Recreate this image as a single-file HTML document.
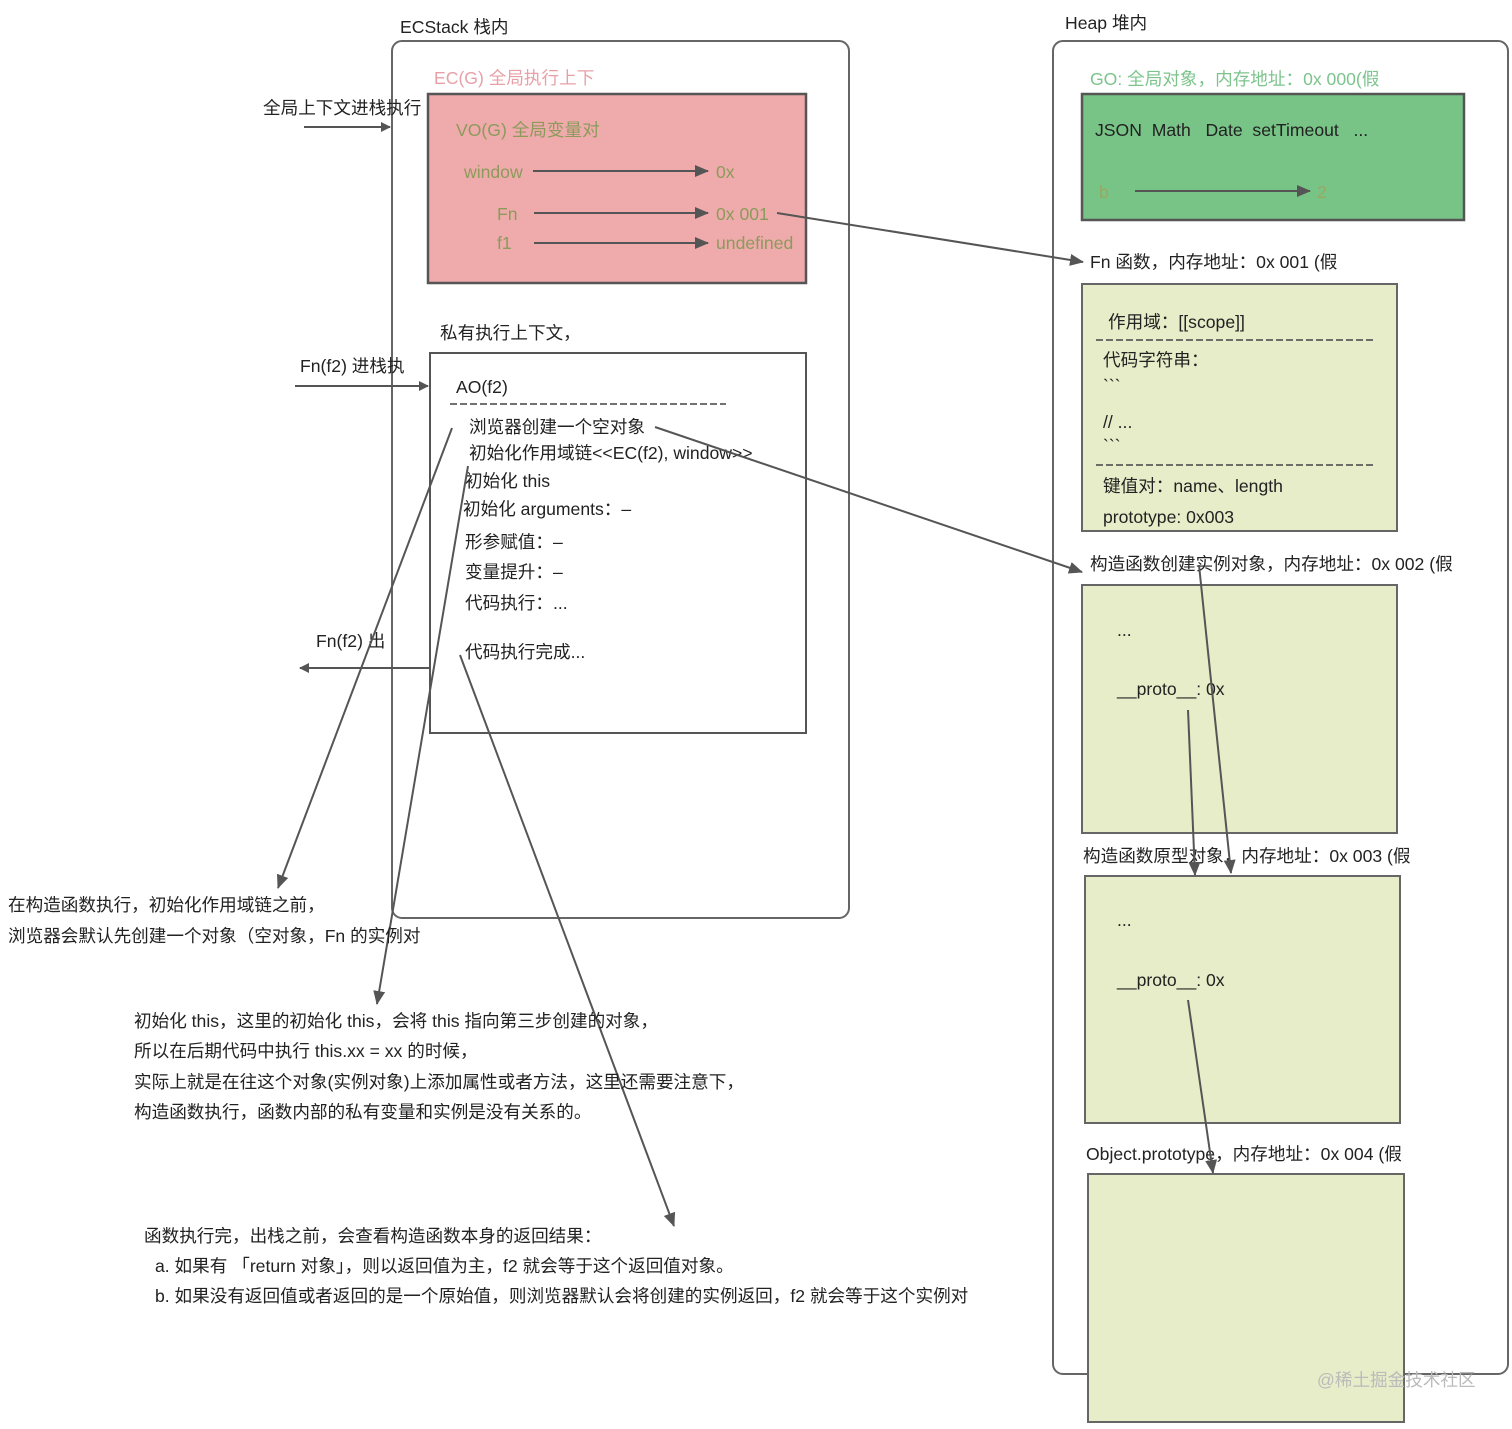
<!DOCTYPE html>
<html><head><meta charset="utf-8"><style>
html,body{margin:0;padding:0;background:#fff;}
svg text{font-family:"Liberation Sans","Noto Sans CJK SC",sans-serif;font-size:17.6px;fill:#222;}
.o{fill:#8c9a5c}
</style></head><body>
<svg width="1512" height="1424" viewBox="0 0 1512 1424" xmlns="http://www.w3.org/2000/svg">
<defs><marker id="a" markerWidth="10" markerHeight="10" refX="9" refY="5" orient="auto" markerUnits="userSpaceOnUse" viewBox="0 0 10 10"><path d="M0,0 L10,5 L0,10 z" fill="#555"/></marker>
<marker id="b" markerWidth="14" markerHeight="12" refX="13" refY="6" orient="auto" markerUnits="userSpaceOnUse" viewBox="0 0 14 12"><path d="M0,0 L14,6 L0,12 z" fill="#555"/></marker></defs>

<rect x="392" y="41" width="457" height="877" rx="10" fill="none" stroke="#666" stroke-width="2"/>
<rect x="1053" y="41" width="455" height="1333" rx="10" fill="none" stroke="#666" stroke-width="2"/>
<text x="400" y="33">ECStack 栈内</text>
<text x="1065" y="29">Heap 堆内</text>

<text x="434" y="84" style="fill:#e8a0a8">EC(G) 全局执行上下</text>
<rect x="428" y="94" width="378" height="189" fill="#efabab" stroke="#555" stroke-width="2.5"/>
<text x="456" y="136" class="o">VO(G) 全局变量对</text>
<text x="464" y="178" class="o">window</text>
<text x="497" y="220" class="o">Fn</text>
<text x="497" y="249" class="o">f1</text>
<text x="716" y="178" class="o">0x</text>
<text x="716" y="220" class="o">0x 001</text>
<text x="716" y="249" class="o">undefined</text>
<line x1="533" y1="171" x2="708" y2="171" stroke="#555" stroke-width="2" marker-end="url(#b)"/>
<line x1="534" y1="213" x2="708" y2="213" stroke="#555" stroke-width="2" marker-end="url(#b)"/>
<line x1="534" y1="243" x2="708" y2="243" stroke="#555" stroke-width="2" marker-end="url(#b)"/>

<text x="440" y="339">私有执行上下文，</text>
<rect x="430" y="353" width="376" height="380" fill="none" stroke="#555" stroke-width="2"/>
<text x="456" y="393">AO(f2)</text>
<line x1="450" y1="404" x2="726" y2="404" stroke="#444" stroke-width="1.5" stroke-dasharray="7,3"/>
<text x="469" y="433">浏览器创建一个空对象</text>
<text x="469" y="459">初始化作用域链&lt;&lt;EC(f2), window&gt;&gt;</text>
<text x="465" y="487">初始化 this</text>
<text x="463" y="515">初始化 arguments：–</text>
<text x="465" y="548">形参赋值：–</text>
<text x="465" y="578">变量提升：–</text>
<text x="465" y="609">代码执行：...</text>
<text x="465" y="658">代码执行完成...</text>

<text x="263" y="114">全局上下文进栈执行</text>
<text x="300" y="372">Fn(f2) 进栈执</text>
<text x="316" y="647">Fn(f2) 出</text>
<line x1="304" y1="127" x2="390" y2="127" stroke="#555" stroke-width="2" marker-end="url(#a)"/>
<line x1="295" y1="386" x2="428" y2="386" stroke="#555" stroke-width="2" marker-end="url(#a)"/>
<line x1="430" y1="668" x2="300" y2="668" stroke="#555" stroke-width="2" marker-end="url(#a)"/>

<text x="1090" y="85" style="fill:#7cc48c">GO: 全局对象，内存地址：0x 000(假</text>
<rect x="1082" y="94" width="382" height="126" fill="#78c386" stroke="#555" stroke-width="2.5"/>
<text x="1095" y="136">JSON &#160;Math &#160; Date &#160;setTimeout &#160; ...</text>
<text x="1099" y="198" style="fill:#9aa860">b</text>
<text x="1317" y="198" style="fill:#9aa860">2</text>
<line x1="1135" y1="191" x2="1310" y2="191" stroke="#555" stroke-width="2" marker-end="url(#b)"/>

<text x="1090" y="268">Fn 函数，内存地址：0x 001 (假</text>
<rect x="1082" y="284" width="315" height="247" fill="#e6edc8" stroke="#666" stroke-width="2"/>
<text x="1108" y="328">作用域：[[scope]]</text>
<line x1="1096" y1="340" x2="1373" y2="340" stroke="#444" stroke-width="1.5" stroke-dasharray="7,3"/>
<text x="1103" y="366">代码字符串：</text>
<text x="1103" y="392">&#96;&#96;&#96;</text>
<text x="1103" y="428">// ...</text>
<text x="1103" y="452">&#96;&#96;&#96;</text>
<line x1="1096" y1="465" x2="1373" y2="465" stroke="#444" stroke-width="1.5" stroke-dasharray="7,3"/>
<text x="1103" y="492">键值对：name、length</text>
<text x="1103" y="523">prototype: 0x003</text>

<text x="1090" y="570">构造函数创建实例对象，内存地址：0x 002 (假</text>
<rect x="1082" y="585" width="315" height="248" fill="#e6edc8" stroke="#666" stroke-width="2"/>
<text x="1117" y="636">...</text>
<text x="1117" y="695">__proto__: 0x</text>

<text x="1083" y="862">构造函数原型对象，内存地址：0x 003 (假</text>
<rect x="1085" y="876" width="315" height="247" fill="#e6edc8" stroke="#666" stroke-width="2"/>
<text x="1117" y="926">...</text>
<text x="1117" y="986">__proto__: 0x</text>

<text x="1086" y="1160">Object.prototype，内存地址：0x 004 (假</text>
<rect x="1088" y="1174" width="316" height="248" fill="#e6edc8" stroke="#666" stroke-width="2"/>

<line x1="777" y1="213" x2="1083" y2="262" stroke="#555" stroke-width="2" marker-end="url(#b)"/>
<line x1="655" y1="427" x2="1082" y2="572" stroke="#555" stroke-width="2" marker-end="url(#b)"/>
<line x1="452" y1="428" x2="278" y2="888" stroke="#555" stroke-width="2" marker-end="url(#b)"/>
<line x1="468" y1="466" x2="377" y2="1004" stroke="#555" stroke-width="2" marker-end="url(#b)"/>
<line x1="460" y1="655" x2="674" y2="1226" stroke="#555" stroke-width="2" marker-end="url(#b)"/>
<line x1="1199" y1="565" x2="1231" y2="873" stroke="#555" stroke-width="2" marker-end="url(#b)"/>
<line x1="1188" y1="710" x2="1195" y2="875" stroke="#555" stroke-width="2" marker-end="url(#b)"/>
<line x1="1188" y1="1000" x2="1213" y2="1173" stroke="#555" stroke-width="2" marker-end="url(#b)"/>

<text x="8" y="911">在构造函数执行，初始化作用域链之前，</text>
<text x="8" y="942">浏览器会默认先创建一个对象（空对象，Fn 的实例对</text>
<text x="134" y="1027">初始化 this，这里的初始化 this，会将 this 指向第三步创建的对象，</text>
<text x="134" y="1057">所以在后期代码中执行 this.xx = xx 的时候，</text>
<text x="134" y="1088">实际上就是在往这个对象(实例对象)上添加属性或者方法，这里还需要注意下，</text>
<text x="134" y="1118">构造函数执行，函数内部的私有变量和实例是没有关系的。</text>
<text x="144" y="1242">函数执行完，出栈之前，会查看构造函数本身的返回结果：</text>
<text x="155" y="1272">a. 如果有 「return 对象」，则以返回值为主，f2 就会等于这个返回值对象。</text>
<text x="155" y="1302">b. 如果没有返回值或者返回的是一个原始值，则浏览器默认会将创建的实例返回，f2 就会等于这个实例对</text>
<text x="1317" y="1386" style="fill:#bbb">@稀土掘金技术社区</text>
</svg>
</body></html>
